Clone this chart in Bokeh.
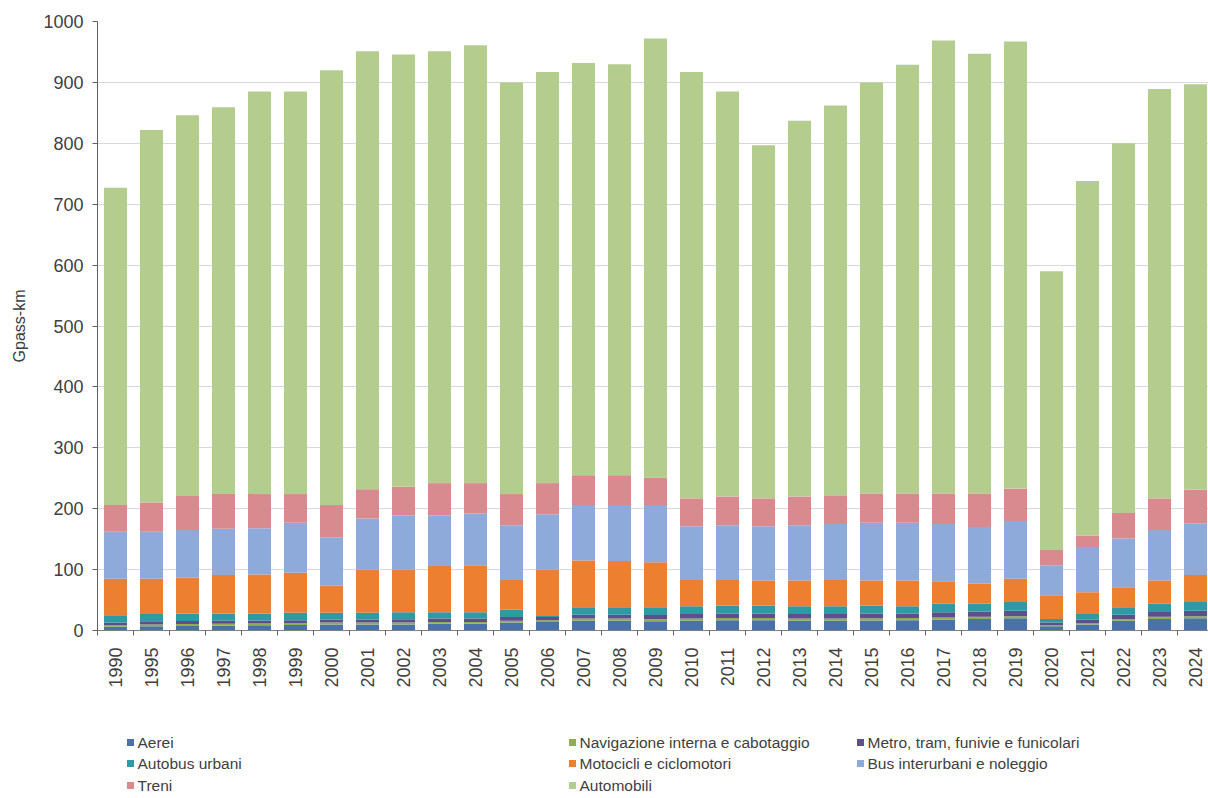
from bokeh.plotting import figure
from bokeh.layouts import column
from bokeh.models import ColumnDataSource, Range1d, FixedTicker
from bokeh.core.properties import value
from bokeh.embed import file_html
from bokeh.resources import INLINE

years = ["1990", "1995", "1996", "1997", "1998", "1999", "2000", "2001", "2002", "2003",
         "2004", "2005", "2006", "2007", "2008", "2009", "2010", "2011", "2012", "2013",
         "2014", "2015", "2016", "2017", "2018", "2019", "2020", "2021", "2022", "2023", "2024"]

aerei = [6, 7, 7.5, 8, 8.5, 9, 10, 10, 10, 11, 11, 13, 14, 16, 16, 15, 16, 17, 17, 16,
         16, 16.5, 17, 18, 19, 20, 7, 10, 16, 19, 20]
navigazione = [3, 3, 3, 3, 3, 3, 3, 3, 3, 3, 3, 3, 3, 3.5, 3.5, 3.5, 3.5, 3.5, 3.5, 3.5,
               3.5, 3.5, 3.5, 3.5, 3.5, 3.5, 2, 2.5, 3, 3.5, 3.5]
metro = [4, 5, 5, 5, 5, 5, 5, 5, 5.5, 5.5, 5.5, 6, 5, 6.5, 6.5, 7, 7.5, 7.5, 7.5, 7.5,
         7.5, 8, 7.5, 8.5, 8.5, 9, 4, 5, 7, 8, 9]
autobus_urbani = [12, 12, 12.5, 12, 11.5, 12, 11, 11, 11.5, 10.5, 10.5, 12, 2, 12, 12, 12.5,
                  13, 13, 13, 13, 13, 13, 12, 14, 13, 14.5, 6, 9.5, 12, 13.5, 14.5]
motocicli = [60, 58, 59, 63, 64, 66, 45, 71, 70, 76, 77, 49, 76, 77, 76, 74, 43, 42, 41, 42,
             43, 41, 42, 37, 33, 38, 39, 36, 33, 38, 44]
bus_interurbani = [77, 77, 78, 76, 76, 82, 79, 84, 89, 83, 85, 90, 91, 91, 92, 94, 88, 90, 89, 91,
                   92, 95, 95, 94, 93, 95, 49, 74, 80, 83, 85]
treni = [44, 48, 56, 57, 56, 47, 53, 48, 47, 53, 50, 51, 51, 49, 49, 45, 46, 47, 46, 47,
         47, 48, 48, 50, 55, 53, 25, 19, 42, 52, 55]
automobili = [521, 612, 625, 635, 661, 661, 714, 719, 710, 709, 719, 676, 675, 677, 675, 721,
              700, 665, 580, 617, 640, 675, 704, 744, 722, 734, 458, 582, 607, 672, 666]

series_names = ["Aerei", "Navigazione interna e cabotaggio", "Metro, tram, funivie e funicolari",
                "Autobus urbani", "Motocicli e ciclomotori", "Bus interurbani e noleggio",
                "Treni", "Automobili"]
colors = ["#4A72A8", "#8FAE50", "#5E4F8C", "#2E9AA3", "#EC8030", "#8EAADB", "#D98A8E", "#B5CC8F"]
keys = ["aerei", "nav", "metro", "bus_urb", "moto", "bus_int", "treni", "auto"]

source = ColumnDataSource(dict(
    x=list(range(len(years))),
    aerei=aerei, nav=navigazione, metro=metro, bus_urb=autobus_urbani,
    moto=motocicli, bus_int=bus_interurbani, treni=treni, auto=automobili,
))

FONT = "Liberation Sans"
TXT = "#404040"

p = figure(width=1208, height=710, output_backend="svg", toolbar_location=None,
           x_range=Range1d(-0.5, 30.36), y_range=Range1d(0, 1000),
           min_border_left=97, min_border_right=0, min_border_top=21, min_border_bottom=80)
p.outline_line_color = None
p.background_fill_color = "white"
p.border_fill_color = "white"

renderers = p.vbar_stack(keys, x="x", width=0.64, source=source, color=colors, line_color=None)

p.xgrid.grid_line_color = None
p.ygrid.grid_line_color = "#D9D9D9"
p.ygrid.grid_line_width = 1

p.yaxis.ticker = FixedTicker(ticks=list(range(0, 1001, 100)))
p.yaxis.axis_line_color = "#606060"
p.yaxis.major_tick_line_color = "#606060"
p.yaxis.major_tick_out = 5
p.yaxis.major_tick_in = 0
p.yaxis.minor_tick_line_color = None
p.yaxis.major_label_text_font = FONT
p.yaxis.major_label_text_font_size = "18px"
p.yaxis.major_label_text_color = TXT
p.yaxis.major_label_standoff = 9
p.yaxis.axis_label = "Gpass-km"
p.yaxis.axis_label_text_font = FONT
p.yaxis.axis_label_text_font_size = "16px"
p.yaxis.axis_label_text_font_style = "normal"
p.yaxis.axis_label_text_color = TXT
p.yaxis.axis_label_standoff = 12

p.xaxis.ticker = FixedTicker(ticks=list(range(len(years))),
                             minor_ticks=[i - 0.5 for i in range(len(years) + 1)])
p.xaxis.major_label_overrides = {i: y for i, y in enumerate(years)}
p.xaxis.major_label_orientation = 1.5708
p.xaxis.axis_line_color = "#808080"
p.xaxis.major_tick_line_color = None
p.xaxis.minor_tick_line_color = "#606060"
p.xaxis.minor_tick_out = 5
p.xaxis.minor_tick_in = 0
p.xaxis.major_label_text_font = FONT
p.xaxis.major_label_text_font_size = "18px"
p.xaxis.major_label_text_color = TXT
p.xaxis.major_label_standoff = 11

# Legend drawn as its own small figure below the chart (3 columns, Excel-like layout)
leg_col_x = [130, 572, 860]
leg_row_y = [56, 35, 13]
order = [[0, 1, 2], [3, 4, 5], [6, 7]]
lx, ly, lt, lc = [], [], [], []
for r, row in enumerate(order):
    for c, idx in enumerate(row):
        lx.append(leg_col_x[c])
        ly.append(leg_row_y[r])
        lt.append(series_names[idx])
        lc.append(colors[idx])
leg_src = ColumnDataSource(dict(x=lx, y=ly, tx=[v + 7 for v in lx], label=lt, color=lc))

pl = figure(width=1208, height=88, output_backend="svg", toolbar_location=None,
            x_range=Range1d(97, 1208), y_range=Range1d(0, 88),
            min_border=0, x_axis_type=None, y_axis_type=None)
pl.outline_line_color = None
pl.xgrid.grid_line_color = None
pl.ygrid.grid_line_color = None
pl.scatter(x="x", y="y", marker="square", size=7, color="color", line_color=None, source=leg_src)
pl.text(x="tx", y="y", text="label", source=leg_src, text_font=value(FONT),
        text_font_size="15.5px", text_color=TXT, text_baseline="middle", text_align="left")

layout = column(p, pl, spacing=0)
open("out.html", "w").write(file_html(layout, INLINE))
